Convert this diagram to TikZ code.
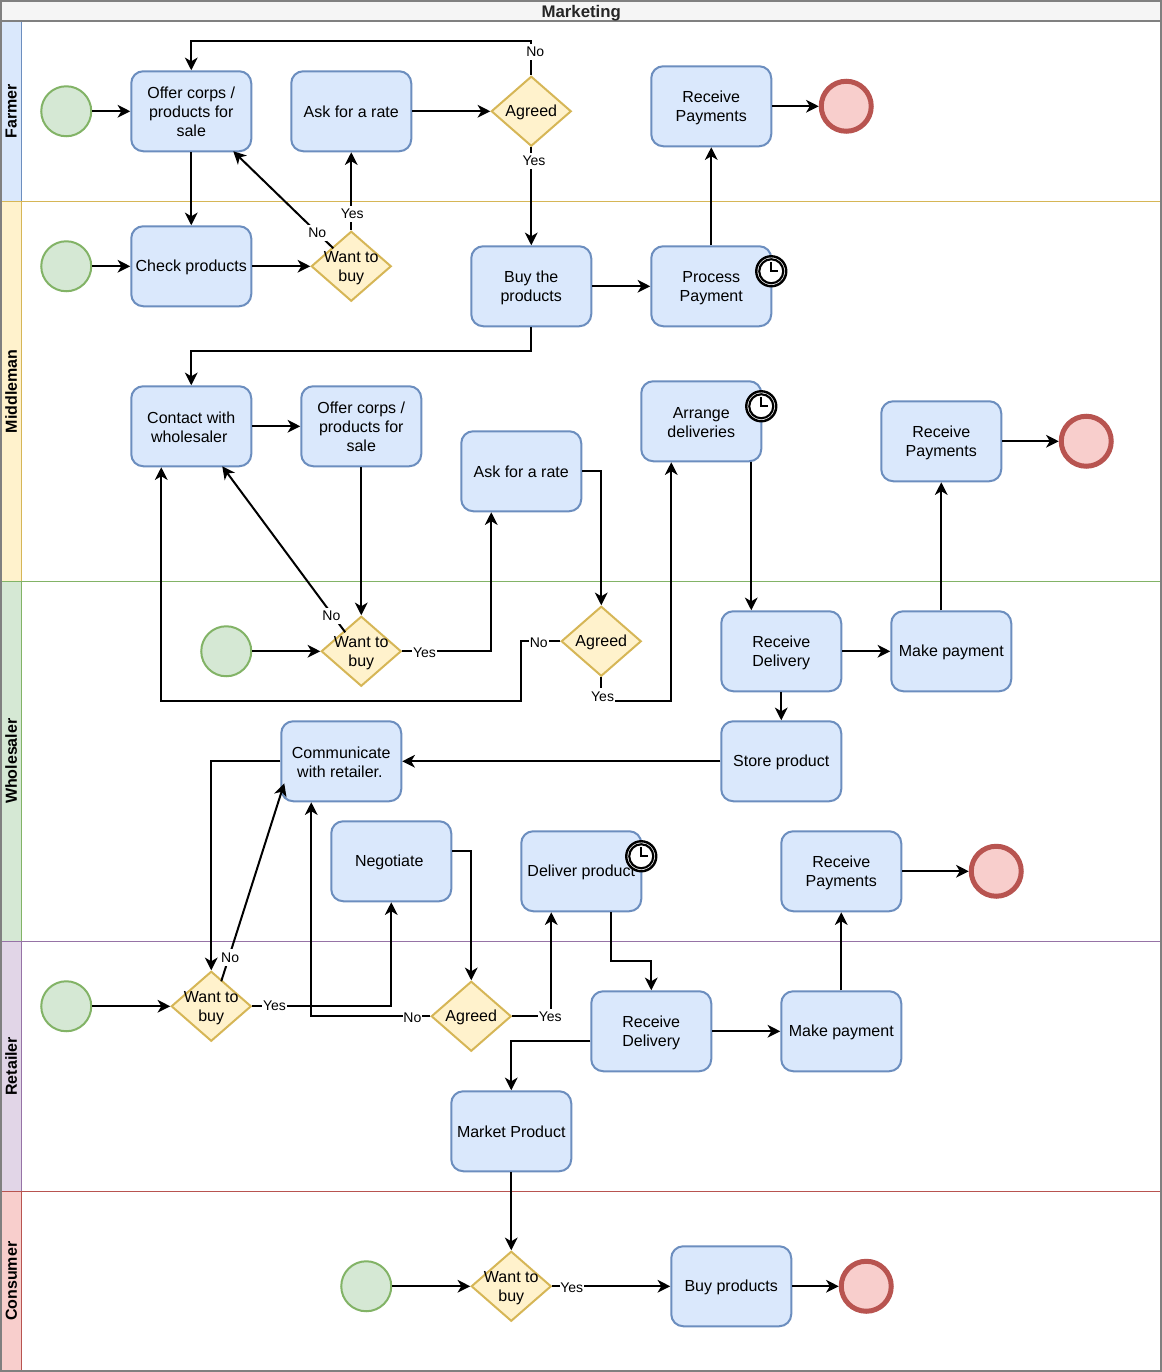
\documentclass[tikz,border=0pt]{standalone}
\usepackage{fontspec}
\setmainfont{Liberation Sans}
\usepackage{xcolor}
\usetikzlibrary{arrows.meta,shapes.geometric}
\definecolor{taskfill}{HTML}{DAE8FC}
\definecolor{taskline}{HTML}{6C8EBF}
\definecolor{gatefill}{HTML}{FFF2CC}
\definecolor{gateline}{HTML}{D6B656}
\definecolor{startfill}{HTML}{D5E8D4}
\definecolor{startline}{HTML}{82B366}
\definecolor{endfill}{HTML}{F8CECC}
\definecolor{endline}{HTML}{B85450}
\definecolor{retailfill}{HTML}{E1D5E7}
\definecolor{retailline}{HTML}{9673A6}
\definecolor{frameline}{HTML}{808080}
\tikzset{
	bodyfont/.style={
			font=\fontsize{12}{14.4}\selectfont, align=center, text=black,
			execute at begin node={\rule{0pt}{11pt}},
			execute at end node={\rule[-1.5pt]{0pt}{1.5pt}}
		},
	twolines/.style={execute at begin node={\rule{0pt}{25.9pt}\rule[-1.5pt]{0pt}{1.5pt}}},
	threelines/.style={execute at begin node={\rule{0pt}{39.5pt}\rule[-1.5pt]{0pt}{1.5pt}}},
	task/.style={
			draw=taskline, fill=taskfill, line width=1.5pt, rounded corners=9pt,
			minimum width=90pt, minimum height=60pt, inner sep=0pt, bodyfont
		},
	gatebase/.style={
			diamond, aspect=1.14, draw=gateline, fill=gatefill, line width=1.5pt,
			minimum width=60pt, minimum height=52.5pt, inner sep=0pt
		},
	gate/.style={gatebase, label={[bodyfont]center:#1}},
	gatetwo/.style={gatebase, label={[bodyfont, twolines]center:#1}},
	startev/.style={circle, draw=startline, fill=startfill, line width=1.5pt, minimum size=37.5pt, inner sep=0pt},
	endev/.style={circle, draw=endline, fill=endfill, line width=3.75pt, minimum size=37.5pt, inner sep=0pt},
	flow/.style={->, line width=1.5pt},
	elabel/.style={fill=white, inner sep=0.6pt, text height=9pt, text depth=2pt, font=\fontsize{10.5}{12}\selectfont, text=black},
	lanehead/.style={rotate=90, font=\fontsize{12}{14.4}\bfseries\selectfont, text=black},
	timer/.pic={
			\draw[line width=1.8pt, fill=white] (0,0) circle[radius=15];
			\draw[line width=1.6pt] (0,0) circle[radius=12];
			\draw[line width=1.3pt] (0,-9) -- (0,0) -- (7,0);
		}
}

\begin{document}
\begin{tikzpicture}[x=0.75pt, y=-0.75pt, >={Stealth[length=9.5pt,width=9.5pt,inset=2.8pt]}]
	\useasboundingbox (-0.25,-0.25) rectangle (1161.75,1371.75);

	% Lanes
	\foreach \lanename/\ytop/\ybot/\lanefill/\laneline in {
			Farmer/21/201/taskfill/taskline,
			Middleman/201/581/gatefill/gateline,
			Wholesaler/581/941/startfill/startline,
			Retailer/941/1191/retailfill/retailline,
			Consumer/1191/1371/endfill/endline} {
			\draw[\laneline, fill=white] (21,\ytop) rectangle (1161,\ybot);
			\draw[\laneline, fill=\lanefill] (1,\ytop) rectangle (21,\ybot);
			\node[lanehead] at (11,{(\ytop+\ybot)/2}) {\lanename};
		}

	% Title bar and frame
	\draw[frameline, line width=1.5pt, fill=black!4] (1,1) rectangle (1161,21);
	\node[font=\fontsize{12.6}{14.4}\bfseries\selectfont, text=black!85, text height=9pt, text depth=0pt] (title) at (581,11) {Marketing};
	\draw[frameline, line width=1.5pt] (1,1) rectangle (1161,1371);

	% Farmer
	\node[startev] (startA) at (66,111) {};
	\node[task, threelines] (offerA) at (191,111) {Offer corps /\\products for\\sale};
	\node[task] (askA) at (351,111) {Ask for a rate};
	\node[gate={Agreed}] (agreedA) at (531,111) {};
	\node[task, twolines] (receiveA) at (711,106) {Receive\\Payments};
	\node[endev] (endA) at (846,106) {};

	% Middleman
	\node[startev] (startB) at (66,266) {};
	\node[task] (check) at (191,266) {Check products};
	\node[gatetwo={Want to\\buy}] (wantA) at (351,266) {};
	\node[task, twolines] (buy) at (531,286) {Buy the\\products};
	\node[task, twolines] (process) at (711,286) {Process\\Payment};
	\node[task, twolines] (contact) at (191,426) {Contact with\\wholesaler\hspace*{3pt}};
	\node[task, threelines] (offerB) at (361,426) {Offer corps /\\products for\\sale};
	\node[task] (askB) at (521,471) {Ask for a rate};
	\node[task, twolines] (arrange) at (701,421) {Arrange\\deliveries};
	\node[task, twolines] (receiveB) at (941,441) {Receive\\Payments};
	\node[endev] (endB) at (1086,441) {};

	% Wholesaler
	\node[startev] (startC) at (226,651) {};
	\node[gatetwo={Want to\\buy}] (wantB) at (361,651) {};
	\node[gate={Agreed}] (agreedB) at (601,641) {};
	\node[task, twolines] (deliveryA) at (781,651) {Receive\\Delivery};
	\node[task] (payA) at (951,651) {Make payment};
	\node[task] (store) at (781,761) {Store product};
	\node[task, twolines] (comm) at (341,761) {Communicate\\with retailer.\hspace*{2pt}};
	\node[task] (nego) at (391,861) {Negotiate\hspace*{3pt}};
	\node[task] (deliver) at (581,871) {Deliver product};
	\node[task, twolines] (receiveC) at (841,871) {Receive\\Payments};
	\node[endev] (endC) at (996,871) {};

	% Retailer
	\node[startev] (startD) at (66,1006) {};
	\node[gatetwo={Want to\\buy}] (wantC) at (211,1006) {};
	\node[gate={Agreed}] (agreedC) at (471,1016) {};
	\node[task, twolines] (deliveryB) at (651,1031) {Receive\\Delivery};
	\node[task] (payB) at (841,1031) {Make payment};
	\node[task] (market) at (511,1131) {Market Product};

	% Consumer
	\node[startev] (startE) at (366,1286) {};
	\node[gatetwo={Want to\\buy}] (wantD) at (511,1286) {};
	\node[task] (buyprod) at (731,1286) {Buy products};
	\node[endev] (endD) at (866,1286) {};

	% Timers
	\pic at (771,271) {timer};
	\pic at (761,406) {timer};
	\pic at (641,856) {timer};

	% Free ends on box edges
	\coordinate (offerAin) at (233,151);
	\coordinate (contactin) at (222,466);
	\coordinate (comminA) at (284,783);
	\coordinate (wantAout) at (333,248);
	\coordinate (wantBout) at (345,632);
	\coordinate (wantCout) at (221,981);

	% Farmer flows
	\draw[flow] (startA) -- (offerA);
	\draw[flow] (offerA) -- (check);
	\draw[flow] (askA) -- (agreedA);
	\draw[flow] (agreedA.north) -- node[elabel, pos=.69, xshift=3pt] {No} (531,41) -- (191,41) -- (offerA.north);
	\draw[flow] (agreedA.south) -- node[elabel, pos=.14, xshift=2pt] {Yes} (buy.north);
	\draw[flow] (receiveA) -- (endA);

	% Middleman flows
	\draw[flow] (startB) -- (check);
	\draw[flow] (check) -- (wantA);
	\draw[flow] (wantA.north) -- node[elabel, pos=.21, xshift=0.7pt] {Yes} (askA.south);
	\draw[flow] (wantAout) -- node[elabel, pos=.16] {No} (offerAin);
	\draw[flow] (buy) -- (process);
	\draw[flow] (process) -- (receiveA);
	\draw[flow] (buy.south) -- (531,351) -- (191,351) -- (contact.north);
	\draw[flow] (contact) -- (offerB);
	\draw[flow] (offerB) -- (wantB);
	\draw[flow] (wantBout) -- node[elabel, pos=.096, xshift=-1.5pt] {No} (contactin);
	\draw[flow] (startC) -- (wantB);
	\draw[flow] (wantB.east) -- node[elabel, pos=.25, yshift=-1pt] {Yes} (491,651) -- (askB.south -| 491,651);
	\draw[flow] (askB.east) -- (601,471) -- (agreedB.north);
	\draw[flow] (agreedB.west) -- node[elabel, pos=.55, yshift=-1pt] {No} (521,641) -- (521,701) -- (161,701) -- (contact.south -| 161,701);
	\draw[flow] (agreedB.south) -- node[elabel, pos=.8, xshift=1pt] {Yes} (601,701) -- (671,701) -- (arrange.south -| 671,701);
	\draw[flow] (arrange.south -| 751,611) -- (deliveryA.north -| 751,611);

	% Wholesaler flows
	\draw[flow] (deliveryA) -- (payA);
	\draw[flow] (deliveryA) -- (store);
	\draw[flow] (payA.north -| receiveB.south) -- (receiveB.south);
	\draw[flow] (receiveB) -- (endB);
	\draw[flow] (store) -- (comm);
	\draw[flow] (comm.west) -- (211,761) -- (wantC.north);
	\draw[flow] (wantCout) -- node[elabel, pos=.12, xshift=1pt] {No} (comminA);
	\draw[flow] (receiveC) -- (endC);

	% Retailer flows
	\draw[flow] (startD) -- (wantC);
	\draw[flow] (wantC.east) -- node[elabel, pos=.16] {Yes} (391,1006) -- (nego.south);
	\draw[flow] (nego.east |- 451,851) -- (471,851) -- (agreedC.north);
	\draw[flow] (agreedC.west) -- node[elabel, pos=.15, yshift=-1pt] {No} (311,1016) -- (comm.south -| 311,1016);
	\draw[flow] (agreedC.east) -- (551,1016) -- (deliver.south -| 551,1016);
	\node[elabel] (yesC) at (550,1017) {Yes};
	\draw[flow] (deliver.south -| 611,961) -- (611,961) -- (651,961) -- (deliveryB.north);
	\draw[flow] (deliveryB) -- (payB);
	\draw[flow] (payB) -- (receiveC);
	\draw[flow] (deliveryB.west |- 591,1041) -- (511,1041) -- (market.north);
	\draw[flow] (market) -- (wantD);

	% Consumer flows
	\draw[flow] (startE) -- (wantD);
	\draw[flow] (wantD) -- node[elabel, pos=.165, yshift=-1pt] {Yes} (buyprod);
	\draw[flow] (buyprod) -- (endD);
\end{tikzpicture}
\end{document}
